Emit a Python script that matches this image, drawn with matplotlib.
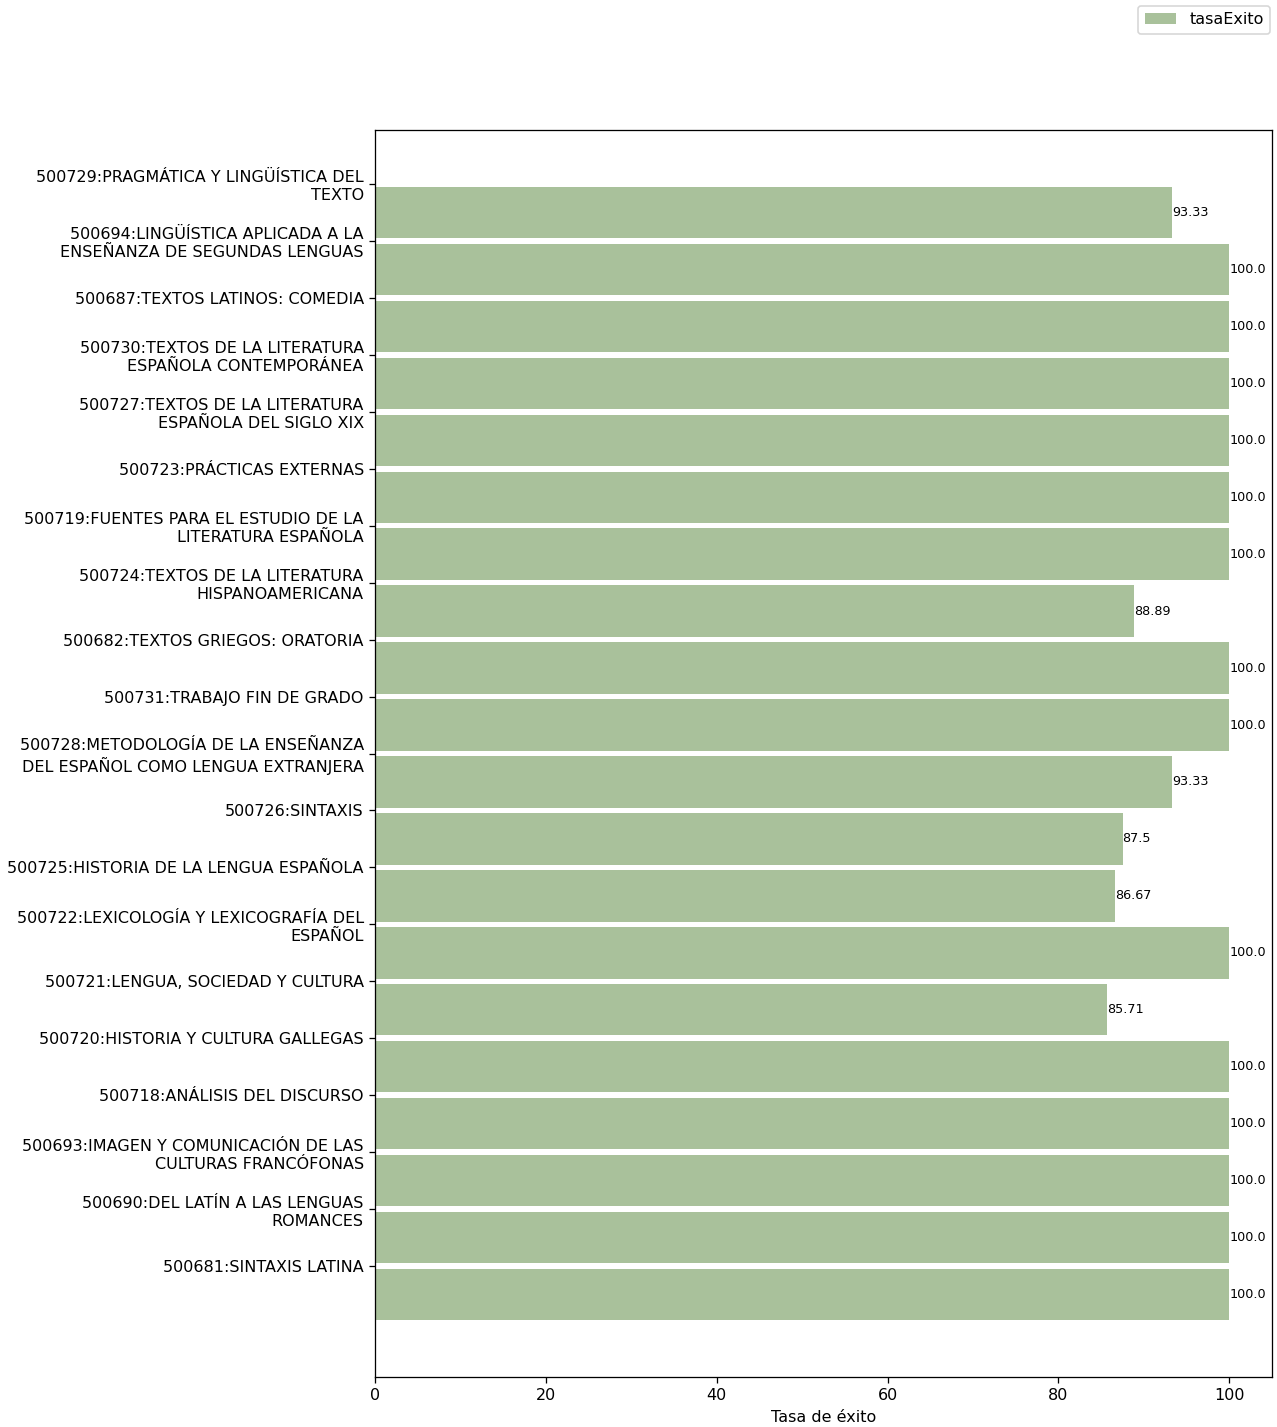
import numpy as np
import matplotlib
matplotlib.use('Agg')
import matplotlib.pyplot as plt

# Course labels (top to bottom) and success rate
asignaturas = [
    '500729:PRAGMÁTICA Y LINGÜÍSTICA DEL\nTEXTO',
    '500694:LINGÜÍSTICA APLICADA A LA\nENSEÑANZA DE SEGUNDAS LENGUAS',
    '500687:TEXTOS LATINOS: COMEDIA',
    '500730:TEXTOS DE LA LITERATURA\nESPAÑOLA CONTEMPORÁNEA',
    '500727:TEXTOS DE LA LITERATURA\nESPAÑOLA DEL SIGLO XIX',
    '500723:PRÁCTICAS EXTERNAS',
    '500719:FUENTES PARA EL ESTUDIO DE LA\nLITERATURA ESPAÑOLA',
    '500724:TEXTOS DE LA LITERATURA\nHISPANOAMERICANA',
    '500682:TEXTOS GRIEGOS: ORATORIA',
    '500731:TRABAJO FIN DE GRADO',
    '500728:METODOLOGÍA DE LA ENSEÑANZA\nDEL ESPAÑOL COMO LENGUA EXTRANJERA',
    '500726:SINTAXIS',
    '500725:HISTORIA DE LA LENGUA ESPAÑOLA',
    '500722:LEXICOLOGÍA Y LEXICOGRAFÍA DEL\nESPAÑOL',
    '500721:LENGUA, SOCIEDAD Y CULTURA',
    '500720:HISTORIA Y CULTURA GALLEGAS',
    '500718:ANÁLISIS DEL DISCURSO',
    '500693:IMAGEN Y COMUNICACIÓN DE LAS\nCULTURAS FRANCÓFONAS',
    '500690:DEL LATÍN A LAS LENGUAS\nROMANCES',
    '500681:SINTAXIS LATINA',
]
tasa_exito = [93.33, 100.0, 100.0, 100.0, 100.0, 100.0, 100.0, 88.89, 100.0, 100.0,
              93.33, 87.5, 86.67, 100.0, 85.71, 100.0, 100.0, 100.0, 100.0, 100.0]

bar_color = '#a9c19b'

W, H, DPI = 1277, 1427, 115
fig = plt.figure(figsize=(W / DPI, H / DPI), dpi=DPI)
ax = fig.add_axes([375 / W, 1 - 1377 / H, (1272 - 375) / W, (1377 - 130) / H])

# ticks sit in the gap above each bar
y = np.arange(len(asignaturas))
bars = ax.barh(y + 0.5, tasa_exito, height=0.9, color=bar_color, label='tasaExito')
ax.invert_yaxis()

ax.set_yticks(y)
ax.set_yticklabels(asignaturas, fontsize=10, linespacing=1.25)
ax.set_xlabel('Tasa de éxito', fontsize=10)

# value labels at the end of each bar
for rect, v in zip(bars, tasa_exito):
    ax.text(v, rect.get_y() + rect.get_height() / 2, str(v), fontsize=8,
            ha='left', va='center')

fig.legend(loc='upper right', bbox_to_anchor=(1270 / W, 1 - 6 / H),
           borderaxespad=0, fontsize=10)

plt.savefig('out.png', dpi=DPI)
plt.close()
